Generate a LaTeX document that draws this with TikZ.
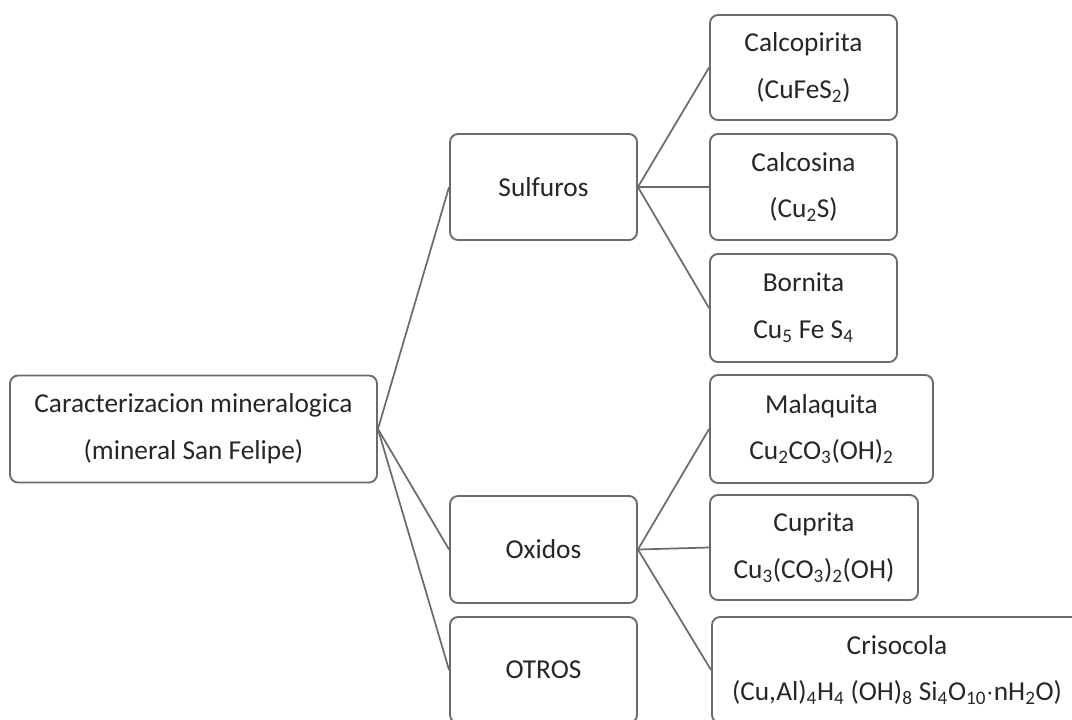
\documentclass[tikz,border=0pt]{standalone}
\usepackage{fontspec}
\setmainfont{Carlito}
\begin{document}
\begin{tikzpicture}[x=0.75pt,y=-0.75pt,
  bx/.style={draw=black!58, line width=1.4pt, rounded corners=6pt, fill=white,
    inner sep=0pt, align=center, text=black!85,
    font=\fontsize{20.5}{35}\selectfont},
  ln/.style={draw=black!58, line width=1.3pt}]
\useasboundingbox (0,0) rectangle (1072,719);
\clip (0,0) rectangle (1072,719);
\node[bx, minimum width=275.25pt, minimum height=80.25pt] (root) at (193.5,429) {Caracterizacion mineralogica\\(mineral San Felipe)};
\node[bx, minimum width=140.25pt, minimum height=79.5pt] (sulf) at (543.5,187) {Sulfuros};
\node[bx, minimum width=140.25pt, minimum height=80.25pt] (oxid) at (543.5,549.5) {Oxidos};
\node[bx, minimum width=140.25pt, minimum height=79.5pt] (otros) at (543.5,670) {OTROS};
\node[bx, minimum width=140.25pt, minimum height=78.75pt] (calco) at (803.5,67.5) {Calcopirita\\(CuFeS\textsubscript{2})};
\node[bx, minimum width=140.25pt, minimum height=79.5pt] (calcos) at (803.5,187) {Calcosina\\(Cu\textsubscript{2}S)};
\node[bx, minimum width=140.25pt, minimum height=81pt] (born) at (803.5,308) {Bornita\\Cu\textsubscript{5} Fe S\textsubscript{4}};
\node[bx, minimum width=167.25pt, minimum height=81pt] (mala) at (821.5,429) {Malaquita\\Cu\textsubscript{2}CO\textsubscript{3}(OH)\textsubscript{2}};
\node[bx, minimum width=156pt, minimum height=78.75pt] (cupr) at (814,547.5) {Cuprita\\Cu\textsubscript{3}(CO\textsubscript{3})\textsubscript{2}(OH)};
\node[bx, minimum width=277.5pt, minimum height=79.5pt] (cris) at (897,670) {Crisocola\\(Cu,Al)\textsubscript{4}H\textsubscript{4} (OH)\textsubscript{8} Si\textsubscript{4}O\textsubscript{10}$\cdot$nH\textsubscript{2}O)};
\draw[ln] (root.east) -- (sulf.west);
\draw[ln] (root.east) -- (oxid.west);
\draw[ln] (root.east) -- (otros.west);
\draw[ln] (sulf.east) -- (calco.west);
\draw[ln] (sulf.east) -- (calcos.west);
\draw[ln] (sulf.east) -- (born.west);
\draw[ln] (oxid.east) -- (mala.west);
\draw[ln] (oxid.east) -- (cupr.west);
\draw[ln] (oxid.east) -- (cris.west);
\end{tikzpicture}
\end{document}
